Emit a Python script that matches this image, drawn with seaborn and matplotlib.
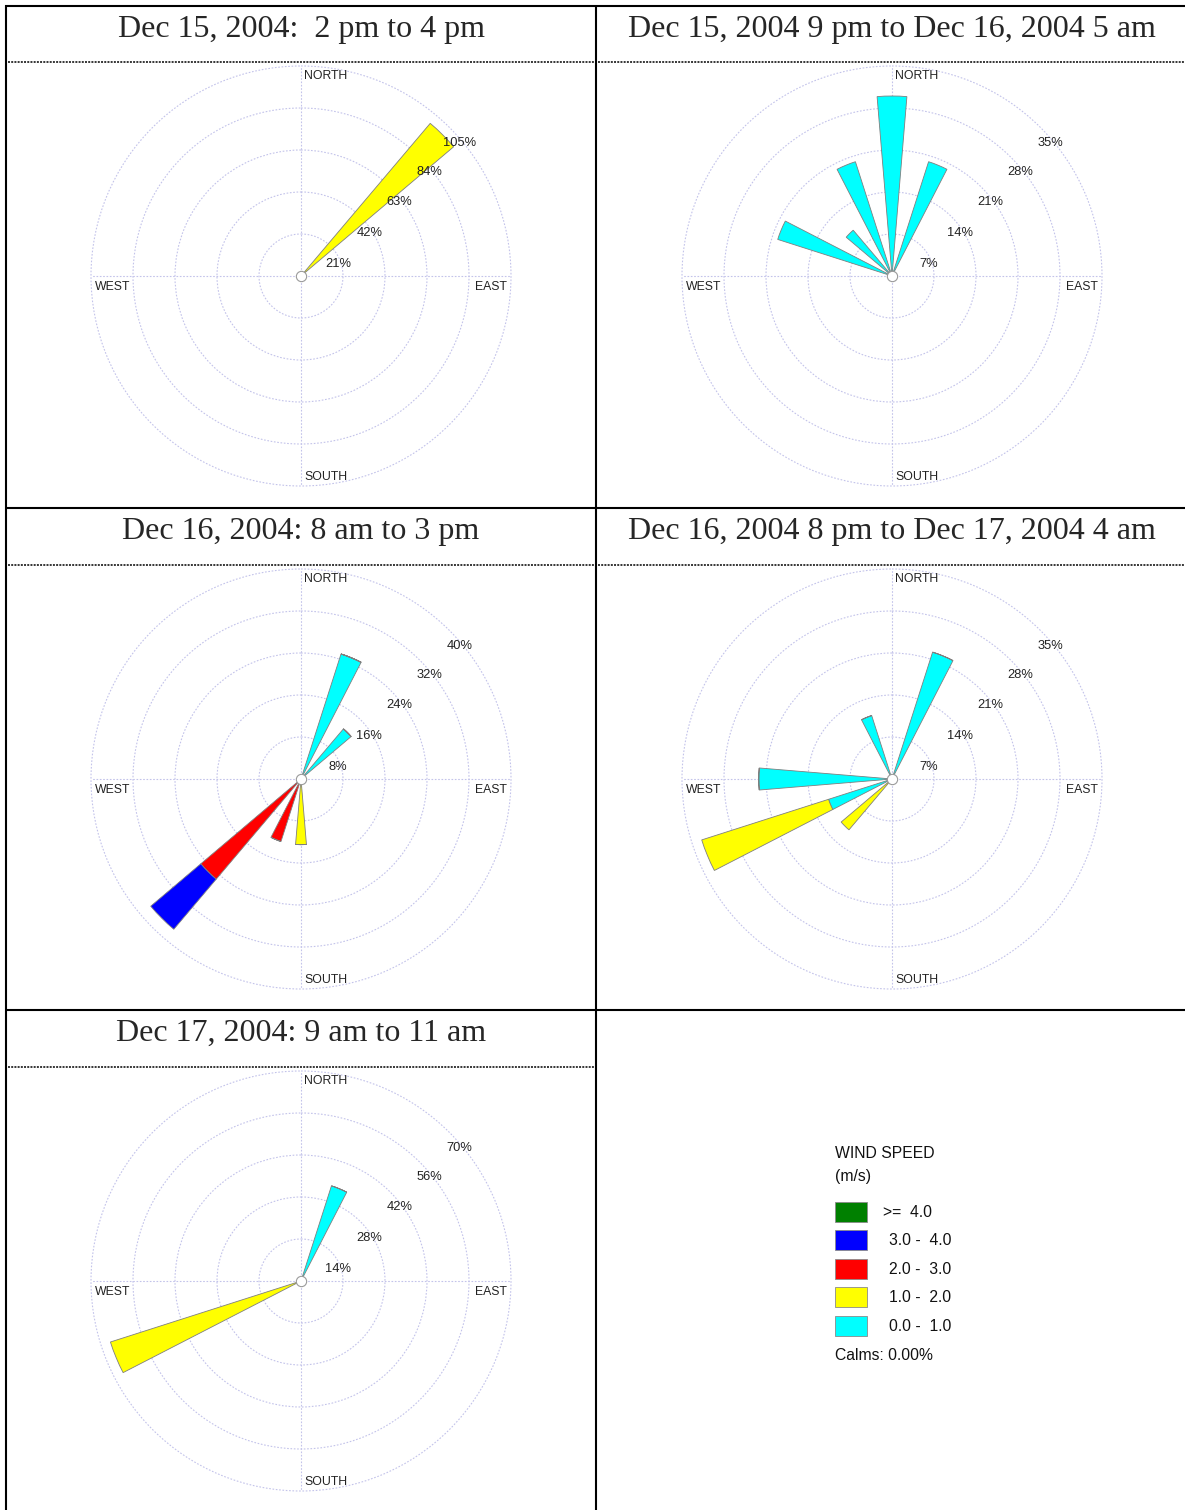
import numpy as np
import pandas as pd
import matplotlib
matplotlib.use("Agg")
import matplotlib.pyplot as plt
from matplotlib.lines import Line2D
from matplotlib.patches import Rectangle
import seaborn as sns

# 16-point compass, clockwise from north
compass = ["N", "NNE", "NE", "ENE", "E", "ESE", "SE", "SSE",
           "S", "SSW", "SW", "WSW", "W", "WNW", "NW", "NNW"]

# wind speed classes (m/s), slowest first, and their colours
speed_bins = ["0.0 -  1.0", "1.0 -  2.0", "2.0 -  3.0", "3.0 -  4.0", ">=  4.0"]
speed_colors = ["#00FFFF", "#FFFF00", "#FF0000", "#0000FF", "#008000"]

titles = [
    "Dec 15, 2004:  2 pm to 4 pm",
    "Dec 15, 2004 9 pm to Dec 16, 2004 5 am",
    "Dec 16, 2004: 8 am to 3 pm",
    "Dec 16, 2004 8 pm to Dec 17, 2004 4 am",
    "Dec 17, 2004: 9 am to 11 am",
]

# spacing of the frequency rings (%) in each rose
ring_steps = [21, 7, 8, 7, 14]

# frequency (%) of each direction / speed class, per period
p1_dir = ["NE"]
p1_bin = ["1.0 -  2.0"]
p1_pct = [100.0]

p2_dir = ["N", "NNE", "NNW", "NW", "WNW"]
p2_bin = ["0.0 -  1.0"] * 5
p2_pct = [30.0, 20.0, 20.0, 10.0, 20.0]

p3_dir = ["NNE", "NE", "S", "SSW", "SW", "SW"]
p3_bin = ["0.0 -  1.0", "0.0 -  1.0", "1.0 -  2.0", "2.0 -  3.0", "2.0 -  3.0", "3.0 -  4.0"]
p3_pct = [25.0, 12.5, 12.5, 12.5, 25.0, 12.5]

p4_dir = ["NNE", "NNW", "W", "WSW", "WSW", "SW"]
p4_bin = ["0.0 -  1.0", "0.0 -  1.0", "0.0 -  1.0", "0.0 -  1.0", "1.0 -  2.0", "1.0 -  2.0"]
p4_pct = [22.2, 11.1, 22.2, 11.1, 22.2, 11.1]

p5_dir = ["NNE", "WSW"]
p5_bin = ["0.0 -  1.0", "1.0 -  2.0"]
p5_pct = [33.3, 66.7]

calms = 0.00

frames = []
for i, (d, b, p) in enumerate([(p1_dir, p1_bin, p1_pct), (p2_dir, p2_bin, p2_pct),
                               (p3_dir, p3_bin, p3_pct), (p4_dir, p4_bin, p4_pct),
                               (p5_dir, p5_bin, p5_pct)]):
    frames.append(pd.DataFrame({"panel": i, "direction": d, "speed": b, "pct": p}))
wind = pd.concat(frames, ignore_index=True)

sns.set_theme(style="white")
plt.rcParams["font.family"] = ["Liberation Sans", "DejaVu Sans"]

W, H = 1185, 1510
fig = plt.figure(figsize=(W / 100, H / 100), dpi=100)
fig.patch.set_facecolor("white")


def fx(x):
    return x / W


def fy(y):
    return 1 - y / H


def hline(x0, x1, y, **kw):
    fig.add_artist(Line2D([fx(x0), fx(x1)], [fy(y), fy(y)], **kw))


def vline(x, y0, y1, **kw):
    fig.add_artist(Line2D([fx(x), fx(x)], [fy(y0), fy(y1)], **kw))


# table frame
solid = dict(color="black", lw=1.5, solid_capstyle="butt")
dotted = dict(color="black", lw=1.1, linestyle=(0, (1.3, 0.8)))
hline(5, W, 6, **solid)
hline(5, W, 508, **solid)
hline(5, W, 1010, **solid)
vline(6, 5, H, **solid)
vline(596, 5, H, **solid)
hline(8, 594, 62, **dotted)
hline(598, W, 62, **dotted)
hline(8, 594, 565, **dotted)
hline(598, W, 565, **dotted)
hline(8, 594, 1067, **dotted)

centers = [(301, 276), (892, 276), (301, 779), (892, 779), (301, 1281)]
row_offsets = [0, 0, 502, 502, 1004]
R = 210
grid_color = "#c3c3ea"
bar_width = np.deg2rad(9.5)
dir_angle = {c: np.deg2rad(22.5 * k) for k, c in enumerate(compass)}


def ring_label_offset(k):
    # labels sit just inside each ring along a line running up to the NE
    rho = 42 * k - 3
    c = 25
    dx = (c + np.sqrt(2 * rho ** 2 - c ** 2)) / 2
    return dx, dx - c


for i, (cx, cy) in enumerate(centers):
    fig.text(fx(cx), fy(37 + row_offsets[i]), titles[i], ha="center", va="baseline",
             fontsize=23, family=["Liberation Serif", "DejaVu Serif"])

    ax = fig.add_axes([fx(cx - R), fy(cy + R), 2 * R / W, 2 * R / H], projection="polar")
    ax.set_theta_zero_location("N")
    ax.set_theta_direction(-1)
    step = ring_steps[i]
    rmax = 5 * step
    ax.set_ylim(0, rmax)
    ax.set_yticks([step * k for k in range(1, 6)])
    ax.set_yticklabels([])
    ax.set_xticks(np.deg2rad([0, 90, 180, 270]))
    ax.set_xticklabels([])
    ax.grid(True, color=grid_color, lw=0.8, linestyle=(0, (1.5, 1.5)))
    for gl in ax.yaxis.get_gridlines() + ax.xaxis.get_gridlines():
        gl.set_clip_on(False)
    ax.spines["polar"].set_visible(False)
    ax.set_facecolor("none")
    ax.set_axisbelow(True)

    sub = wind[wind.panel == i]
    table = (sub.pivot_table(index="direction", columns="speed", values="pct", aggfunc="sum")
             .reindex(columns=speed_bins).fillna(0.0))
    bottom = pd.Series(0.0, index=table.index)
    theta = [dir_angle[d] for d in table.index]
    for sb, col in zip(speed_bins, speed_colors):
        vals = table[sb]
        if vals.sum() > 0:
            ax.bar(theta, vals.values, width=bar_width, bottom=bottom.values,
                   color=col, edgecolor="#7f7f7f", linewidth=0.6, zorder=3)
        bottom = bottom + vals

    ax.scatter([0], [0], s=55, facecolor="white", edgecolor="#9a9a9a",
               linewidth=0.8, zorder=6, clip_on=False)

    # ring labels
    for k in range(1, 6):
        dx, dy = ring_label_offset(k)
        ax.text(0.5 + dx / (2 * R), 0.5 + dy / (2 * R), f"{step * k}%",
                transform=ax.transAxes, ha="center", va="center",
                fontsize=9.3, color="#222222", zorder=4)

    # compass labels
    lab = dict(transform=ax.transAxes, fontsize=8.8, color="#222222")
    ax.text(0.5 + 3 / (2 * R), 0.5 + 200 / (2 * R), "NORTH", ha="left", va="center", **lab)
    ax.text(0.5 + 3 / (2 * R), 0.5 - 201 / (2 * R), "SOUTH", ha="left", va="center", **lab)
    ax.text(0.5 - 206 / (2 * R), 0.5 - 11 / (2 * R), "WEST", ha="left", va="center", **lab)
    ax.text(0.5 + 206 / (2 * R), 0.5 - 11 / (2 * R), "EAST", ha="right", va="center", **lab)

# legend
leg_font = dict(fontsize=11.3, color="#111111")
fig.text(fx(835), fy(1154), "WIND SPEED", ha="left", va="center", **leg_font)
fig.text(fx(835), fy(1177), "(m/s)", ha="left", va="center", **leg_font)
for j, (sb, col) in enumerate(zip(speed_bins[::-1], speed_colors[::-1])):
    top = 1202 + 28.4 * j
    fig.add_artist(Rectangle((fx(835), fy(top + 20)), 32 / W, 20 / H,
                             facecolor=col, edgecolor="#8a8a8a", lw=0.6))
    x_lab = 883 if sb.startswith(">=") else 889
    fig.text(fx(x_lab), fy(top + 10.5), sb, ha="left", va="center", **leg_font)
fig.text(fx(835), fy(1356), f"Calms: {calms:.2f}%", ha="left", va="center", **leg_font)

fig.savefig("out.png", dpi=100, facecolor="white")
